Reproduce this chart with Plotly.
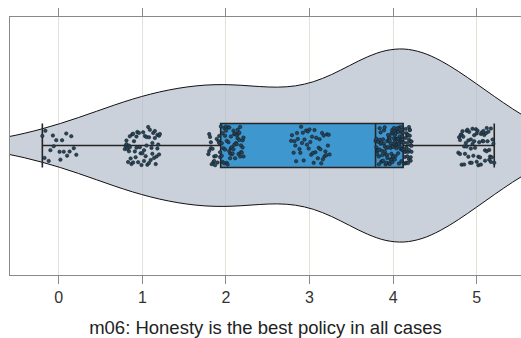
import plotly.graph_objects as go

# Responses (jittered Likert scores 0-5)
g0 = [-0.196, -0.17, -0.16, -0.12, -0.10, -0.07, -0.06, -0.03, 0.01, 0.02,
      0.04, 0.06, 0.09, 0.10, 0.13, 0.15, 0.18, 0.21]
g1 = [0.79, 0.80, 0.81, 0.81, 0.82, 0.83, 0.84, 0.85, 0.85, 0.86,
      0.87, 0.88, 0.89, 0.89, 0.90, 0.92, 0.93, 0.93, 0.94, 0.95,
      0.96, 0.97, 0.98, 0.99, 1.00, 1.01, 1.02, 1.02, 1.03, 1.04,
      1.05, 1.06, 1.07, 1.08, 1.08, 1.09, 1.10, 1.11, 1.12, 1.12,
      1.13, 1.14, 1.15, 1.15, 1.16, 1.17, 1.18, 1.18, 1.19, 1.20,
      1.20, 0.84, 0.91, 1.05, 1.21]
g2 = [1.79, 1.80, 1.80, 1.81, 1.82, 1.82, 1.83, 1.84, 1.85, 1.86,
      1.86, 1.87, 1.88, 1.89, 1.90, 1.91, 1.92, 1.92, 1.93, 1.93,
      1.94, 1.95, 1.95, 1.96, 1.97, 1.98, 1.98, 1.99, 2.00, 2.01,
      2.01, 2.02, 2.03, 2.04, 2.04, 2.05, 2.06, 2.06, 2.07, 2.08,
      2.09, 2.09, 2.10, 2.11, 2.11, 2.12, 2.13, 2.14, 2.14, 2.15,
      2.16, 2.16, 2.17, 2.18, 2.18, 2.19, 2.20, 2.20, 2.21, 2.21,
      1.96, 2.00, 2.03, 2.07, 2.10, 2.13, 2.15, 2.17, 1.99, 2.05]
g3 = [2.78, 2.79, 2.81, 2.82, 2.83, 2.85, 2.86, 2.88, 2.89, 2.90,
      2.92, 2.93, 2.94, 2.96, 2.97, 2.99, 3.00, 3.01, 3.03, 3.04,
      3.05, 3.07, 3.08, 3.10, 3.11, 3.12, 3.14, 3.15, 3.16, 3.17,
      3.18, 3.19, 3.20, 3.21, 3.22, 3.23, 2.84, 2.91, 2.98, 3.02,
      3.06, 3.13, 3.24]
g4 = [3.79, 3.80, 3.80, 3.81, 3.81, 3.82, 3.82, 3.83, 3.83, 3.84,
      3.84, 3.85, 3.85, 3.86, 3.86, 3.87, 3.87, 3.88, 3.88, 3.89,
      3.89, 3.90, 3.90, 3.91, 3.91, 3.92, 3.92, 3.93, 3.93, 3.94,
      3.94, 3.95, 3.95, 3.96, 3.96, 3.96, 3.97, 3.97, 3.97, 3.98,
      3.98, 3.98, 3.99, 3.99, 3.99, 4.00, 4.00, 4.00, 4.01, 4.01,
      4.01, 4.02, 4.02, 4.02, 4.03, 4.03, 4.03, 4.04, 4.04, 4.04,
      4.05, 4.05, 4.05, 4.06, 4.06, 4.06, 4.07, 4.07, 4.07, 4.08,
      4.08, 4.08, 4.09, 4.09, 4.09, 4.10, 4.10, 4.10, 4.10, 4.11,
      4.11, 4.11, 4.11, 3.84, 3.87, 3.90, 3.93, 3.95, 3.99, 4.02,
      4.05, 4.08, 4.11, 4.12, 4.12, 4.13, 4.13, 4.14, 4.14, 4.15,
      4.15, 4.15, 4.16, 4.16, 4.16, 4.17, 4.17, 4.17, 4.18, 4.18,
      4.18, 4.19, 4.19, 4.19, 4.20, 4.20, 4.20, 4.21, 4.21, 4.21,
      4.22, 4.22, 4.22, 4.13, 4.16, 4.19, 4.21]
g5 = [4.78, 4.79, 4.80, 4.80, 4.81, 4.82, 4.83, 4.84, 4.85, 4.85,
      4.86, 4.87, 4.88, 4.89, 4.90, 4.90, 4.91, 4.92, 4.93, 4.94,
      4.95, 4.95, 4.96, 4.97, 4.98, 4.99, 5.00, 5.00, 5.01, 5.02,
      5.03, 5.04, 5.05, 5.05, 5.06, 5.07, 5.08, 5.09, 5.10, 5.10,
      5.11, 5.12, 5.13, 5.14, 5.15, 5.15, 5.16, 5.17, 5.18, 5.19,
      5.20, 5.21, 4.82, 4.88, 4.93, 5.02, 5.08, 5.12, 5.17, 4.97]

tick_vals = [0, 1, 2, 3, 4, 5]
tick_text = ["0", "1", "2", "3", "4", "5"]
axis_title = "m06: Honesty is the best policy in all cases"

values = g0 + g1 + g2 + g3 + g4 + g5

fig = go.Figure()
fig.add_trace(go.Violin(
    x=values, y0=0, orientation="h", width=2, bandwidth=0.65,
    points=False, box_visible=False, meanline_visible=False,
    fillcolor="rgba(180,190,204,0.7)", line=dict(color="#111111", width=1),
    hoverinfo="skip", showlegend=False,
))
fig.add_trace(go.Box(
    x=values, y0=0, orientation="h", width=0.456, whiskerwidth=1,
    boxpoints="all", jitter=0.9, pointpos=0,
    fillcolor="#3f97d0", line=dict(color="#262626", width=1.6),
    marker=dict(size=3.5, color="#2a4558", line=dict(color="#0f1a22", width=0.5)),
    showlegend=False,
))

fig.update_layout(
    width=521, height=338,
    margin=dict(l=10, r=0, t=17, b=63, autoexpand=False),
    paper_bgcolor="white", plot_bgcolor="white",
    font=dict(family="Arial, Liberation Sans, sans-serif", color="#333333"),
    boxmode="overlay", violinmode="overlay",
)
fig.update_xaxes(
    range=[-0.583, 5.53], tickvals=tick_vals, ticktext=tick_text,
    automargin=False,
    showgrid=True, gridcolor="#e4e0d7", gridwidth=1, zeroline=False,
    showline=True, linecolor="#8a8a8a", linewidth=1, mirror="ticks",
    ticks="outside", ticklen=8, tickcolor="#8a8a8a",
    tickfont=dict(size=16, color="#333333"),
    title=dict(text=axis_title, font=dict(size=18.5, color="#222222"), standoff=15),
)
fig.update_yaxes(
    range=[-1.342, 1.332], showticklabels=False, showgrid=False, zeroline=False,
    automargin=False,
    showline=True, linecolor="#8a8a8a", linewidth=1, mirror=False, ticks="",
)

fig.write_html(
    "out.html",
    config={"displayModeBar": False},
    post_script="document.body.style.margin='0';document.body.style.overflow='hidden';",
)
